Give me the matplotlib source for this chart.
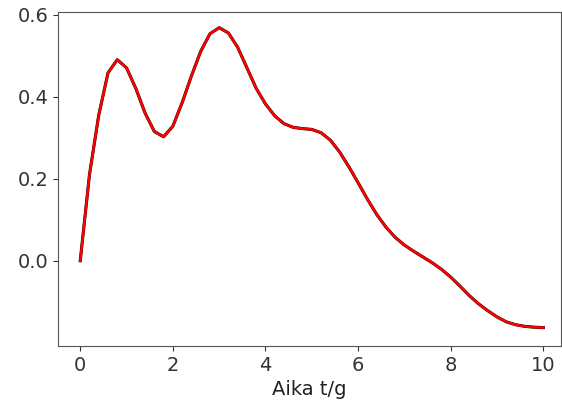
import matplotlib
matplotlib.use("Agg")
import matplotlib.pyplot as plt

# time (t/g) and values
t = [0.0, 0.2, 0.4, 0.6, 0.8, 1.0, 1.2, 1.4, 1.6, 1.8,
     2.0, 2.2, 2.4, 2.6, 2.8, 3.0, 3.2, 3.4, 3.6, 3.8,
     4.0, 4.2, 4.4, 4.6, 4.8, 5.0, 5.2, 5.4, 5.6, 5.8,
     6.0, 6.2, 6.4, 6.6, 6.8, 7.0, 7.2, 7.4, 7.6, 7.8,
     8.0, 8.2, 8.4, 8.6, 8.8, 9.0, 9.2, 9.4, 9.6, 9.8, 10.0]
y = [0.0, 0.21, 0.355, 0.458, 0.49, 0.47, 0.42, 0.36, 0.315, 0.302,
     0.328, 0.385, 0.45, 0.51, 0.553, 0.568, 0.555, 0.52, 0.47, 0.42,
     0.382, 0.353, 0.334, 0.325, 0.322, 0.32, 0.312, 0.294, 0.265, 0.229,
     0.19, 0.15, 0.113, 0.082, 0.057, 0.038, 0.023, 0.009, -0.005, -0.021,
     -0.04, -0.062, -0.085, -0.105, -0.122, -0.137, -0.149, -0.156, -0.16, -0.162, -0.163]

xticks = [0, 2, 4, 6, 8, 10]
yticks = [0.0, 0.2, 0.4, 0.6]

plt.rcParams['font.size'] = 14

fig = plt.figure(figsize=(5.62, 4.11), dpi=100)
ax = fig.add_axes([0.1032, 0.158, 0.895, 0.8116])

ax.plot(t, y, color='black', lw=2.2)
ax.plot(t, y, color='red', lw=1.8)

ax.set_xlim(-0.48, 10.38)
ax.set_ylim(-0.208, 0.605)
ax.set_xticks(xticks)
ax.set_yticks(yticks)
ax.set_yticklabels(['%.1f' % v for v in yticks])
ax.tick_params(colors='#333333', labelsize=14)
for s in ax.spines.values():
    s.set_color('#555555')
ax.set_xlabel('Aika t/g', fontsize=14, color='#222222')

fig.savefig('out.png', dpi=100)
